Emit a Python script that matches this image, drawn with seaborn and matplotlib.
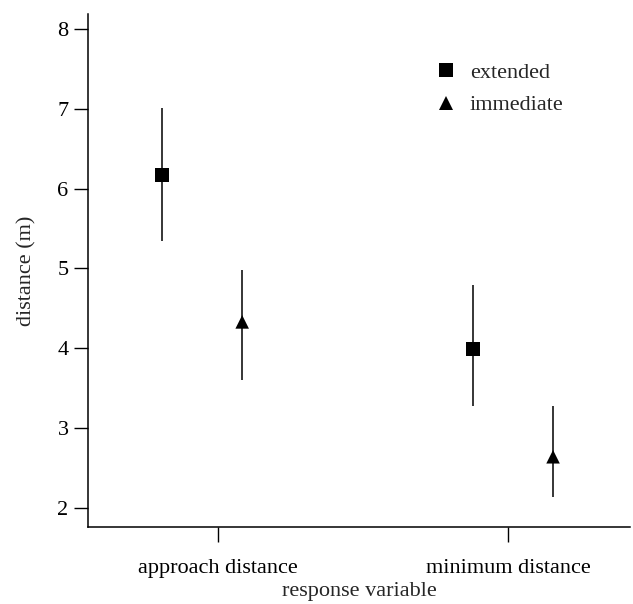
import matplotlib
matplotlib.use("Agg")
import matplotlib.pyplot as plt
import numpy as np
import pandas as pd
import seaborn as sns

# values
variables = ["approach distance", "minimum distance"]
groups = ["extended", "immediate"]
extended_mean = [6.17, 3.99]
extended_low = [5.35, 3.27]
extended_high = [7.01, 4.79]
immediate_mean = [4.33, 2.64]
immediate_low = [3.60, 2.13]
immediate_high = [4.98, 3.27]

rows = []
for i, var in enumerate(variables):
    rows.append({"variable": var, "group": "extended", "mean": extended_mean[i],
                 "low": extended_low[i], "high": extended_high[i]})
    rows.append({"variable": var, "group": "immediate", "mean": immediate_mean[i],
                 "low": immediate_low[i], "high": immediate_high[i]})
df = pd.DataFrame(rows)

# layout: pair centres on integer slots, groups dodged either side
dodge = {"extended": -0.129, "immediate": 0.129}
df["x"] = df["variable"].map({v: i for i, v in enumerate(variables)}) + df["group"].map(dodge)

sns.set_theme(style="ticks")
plt.rcParams["font.family"] = ["Liberation Serif", "DejaVu Serif"]
fs = 16

fig = plt.figure(figsize=(6.33, 6.04), dpi=100)
ax = fig.add_axes([0.139, 0.1275, 0.856, 0.8495])

ax.vlines(df["x"], df["low"], df["high"], color="black", linewidth=1.1, zorder=2)
sns.scatterplot(data=df, x="x", y="mean", style="group", style_order=groups,
                markers={"extended": "s", "immediate": "^"}, color="black",
                s=95, edgecolor="black", linewidth=0, ax=ax, zorder=3)

ax.set_xlim(-0.367, 1.376)
ax.set_ylim(1.76, 8.19)
ax.set_yticks([2, 3, 4, 5, 6, 7, 8])
ax.set_xticks([0.051, 0.984])
ax.set_xticklabels(variables)
ax.tick_params(axis="both", labelsize=fs, width=1, color="black", labelcolor="black")
ax.tick_params(axis="y", length=10, pad=4)
ax.tick_params(axis="x", length=11, pad=12)
ax.set_xlabel("response variable", fontsize=fs, labelpad=3)
ax.set_ylabel("distance (m)", fontsize=fs, labelpad=15)
for side in ["top", "right"]:
    ax.spines[side].set_visible(False)
for side in ["left", "bottom"]:
    ax.spines[side].set_linewidth(1.1)
    ax.spines[side].set_color("black")

leg = ax.legend(title=None, frameon=False, fontsize=fs, loc="upper left",
                bbox_to_anchor=(0.582, 0.945), handletextpad=0.1, labelspacing=0.55,
                markerscale=1.0)

fig.savefig("out.png", dpi=100)
